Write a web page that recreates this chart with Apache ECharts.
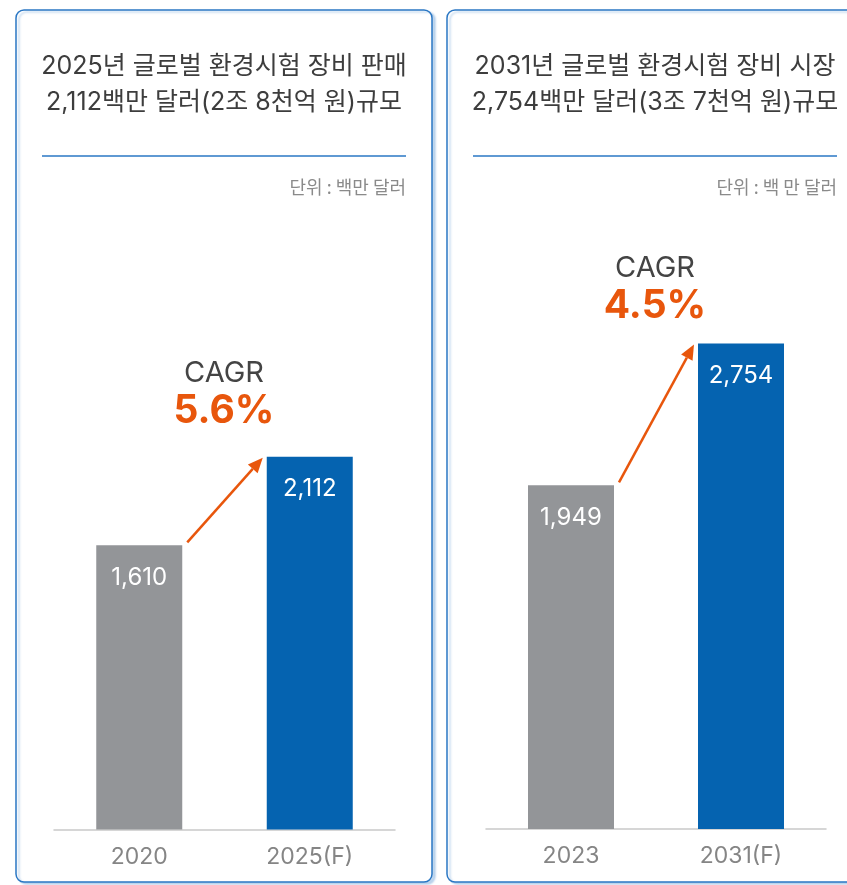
<!DOCTYPE html>
<html>
<head>
<meta charset="utf-8">
<script src="https://cdn.jsdelivr.net/npm/echarts@6/dist/echarts.min.js"></script>
<style>
  html, body { margin: 0; padding: 0; background: #fff; }
  #chart { width: 847px; height: 885px; }
</style>
</head>
<body>
<div id="chart"></div>
<script>
// left panel: sales
var categoriesA = ['2020', '2025(F)'];
var valuesA = [1610, 2112];
var cagrA = '5.6%';
var titleA = ['2025년 글로벌 환경시험 장비 판매', '2,112백만 달러(2조 8천억 원)규모'];
var unitA = '단위 : 백만 달러';

// right panel: market
var categoriesB = ['2023', '2031(F)'];
var valuesB = [1949, 2754];
var cagrB = '4.5%';
var titleB = ['2031년 글로벌 환경시험 장비 시장', '2,754백만 달러(3조 7천억 원)규모'];
var unitB = '단위 : 백 만 달러';

var barColors = ['#939598', '#0563b0'];
var orange = '#e8560c';
var latin = "Inter, 'Noto Sans CJK KR', sans-serif";
var BAR_W = 86;

var chart = echarts.init(document.getElementById('chart'));

function xAxisFor(idx, cats) {
    return {
        type: 'category', gridIndex: idx, data: cats,
        axisLine: { lineStyle: { color: '#c9c9c9', width: 1.5 } },
        axisTick: { show: false },
        axisLabel: { color: '#858585', fontSize: 23, fontFamily: latin, margin: 16 }
    };
}

function yAxisFor(idx) {
    return { type: 'value', gridIndex: idx, min: 0, max: 3000, show: false, splitLine: { show: false } };
}

function barSeries(idx, values) {
    return {
        type: 'bar', xAxisIndex: idx, yAxisIndex: idx, barWidth: BAR_W,
        data: values.map(function (v, i) {
            return { value: v, itemStyle: { color: barColors[i] } };
        }),
        label: {
            show: true, position: 'insideTop', distance: 20,
            color: '#fff', fontSize: 24, fontFamily: latin,
            formatter: function (p) { return p.value.toLocaleString('en-US'); }
        },
        silent: true
    };
}

// arrow from top of first bar to top of second bar
function arrowSeries(idx, values) {
    return {
        type: 'custom', xAxisIndex: idx, yAxisIndex: idx, z: 5, silent: true,
        data: [[0, values[0], 1, values[1]]],
        renderItem: function (params, api) {
            var p0 = api.coord([api.value(0), api.value(1)]);
            var p1 = api.coord([api.value(2), api.value(3)]);
            var x1 = p0[0] + BAR_W / 2 + 5, y1 = p0[1] - 3;
            var x2 = p1[0] - BAR_W / 2 - 4, y2 = p1[1] + 1;
            var ang = Math.atan2(y2 - y1, x2 - x1);
            var len = 15, hw = 6.5;
            var bx = x2 - len * Math.cos(ang), by = y2 - len * Math.sin(ang);
            var nx = -Math.sin(ang) * hw, ny = Math.cos(ang) * hw;
            return {
                type: 'group',
                children: [
                    { type: 'line', shape: { x1: x1, y1: y1, x2: bx, y2: by },
                      style: { stroke: orange, lineWidth: 2.5 } },
                    { type: 'polygon', shape: { points: [[x2, y2], [bx + nx, by + ny], [bx - nx, by - ny]] },
                      style: { fill: orange } }
                ]
            };
        }
    };
}

function panelGraphics(left, cx, title, unit, cagr, cagrY) {
    var inL = left + 26, inR = left + 390;
    return [
        { type: 'rect', z: -10, shape: { x: left, y: 10, width: 416, height: 872, r: 8 },
          style: { fill: '#fff', stroke: '#2a77c4', lineWidth: 1.5,
                   shadowColor: 'rgba(42,119,196,0.28)', shadowOffsetX: 3, shadowOffsetY: 2, shadowBlur: 2 } },
        { type: 'text', style: { x: cx, y: 66, text: title[0], textAlign: 'center', textVerticalAlign: 'middle',
                                 fill: '#3d3d3d', fontSize: 25, fontFamily: latin } },
        { type: 'text', style: { x: cx, y: 102, text: title[1], textAlign: 'center', textVerticalAlign: 'middle',
                                 fill: '#3d3d3d', fontSize: 25, fontFamily: latin } },
        { type: 'line', shape: { x1: inL, y1: 156, x2: inR, y2: 156 },
          style: { stroke: '#2a77c4', lineWidth: 1.5 } },
        { type: 'text', style: { x: inR, y: 187, text: unit, textAlign: 'right', textVerticalAlign: 'middle',
                                 fill: '#8a8a8a', fontSize: 18, fontFamily: "'Noto Sans CJK KR', sans-serif" } },
        { type: 'text', style: { x: cx, y: cagrY, text: 'CAGR', textAlign: 'center', textVerticalAlign: 'middle',
                                 fill: '#444', fontSize: 29, fontFamily: latin } },
        { type: 'text', style: { x: cx, y: cagrY + 38, text: cagr, textAlign: 'center', textVerticalAlign: 'middle',
                                 fill: orange, fontSize: 39, fontWeight: 'bold', fontFamily: latin } }
    ];
}

var option = {
    animation: false,
    backgroundColor: '#fff',
    grid: [
        { left: 54, top: 300, width: 341, height: 529.5 },
        { left: 486, top: 300, width: 340, height: 529 }
    ],
    xAxis: [xAxisFor(0, categoriesA), xAxisFor(1, categoriesB)],
    yAxis: [yAxisFor(0), yAxisFor(1)],
    series: [
        barSeries(0, valuesA), arrowSeries(0, valuesA),
        barSeries(1, valuesB), arrowSeries(1, valuesB)
    ],
    graphic: panelGraphics(16, 224, titleA, unitA, cagrA, 373)
        .concat(panelGraphics(447, 655, titleB, unitB, cagrB, 268))
};

chart.setOption(option);
</script>
</body>
</html>
